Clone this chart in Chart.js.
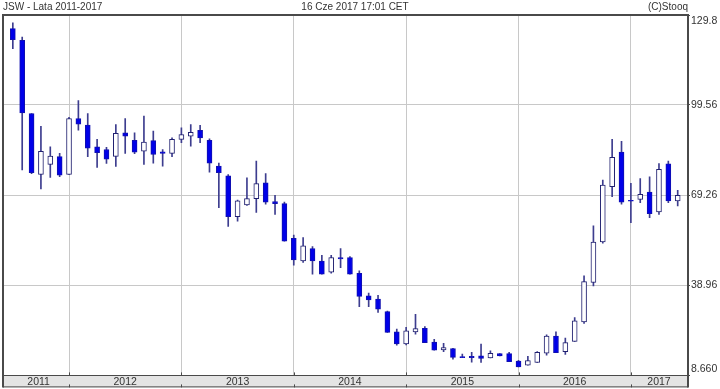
<!DOCTYPE html>
<html>
<head>
<meta charset="utf-8">
<script src="https://cdn.jsdelivr.net/npm/chart.js@4/dist/chart.umd.min.js"></script>
<style>
  body { margin: 0; background: #fff; }
</style>
</head>
<body>
<canvas id="chart" width="720" height="389"></canvas>
<script>
// JSW monthly candles, Jul 2011 .. Jun 2017 (x = month number, 0 = Jul 2011)
const opens  = [125.2, 121.3, 96.7, 76.2, 79.6, 82.2, 76.2, 95.0, 92.8, 85.5, 84.6, 82.3,
                90.2, 87.7, 84.0, 87.6, 83.8, 83.3, 88.0, 89.1, 91.0, 87.7, 79.0, 75.7,
                62.0, 66.0, 68.1, 73.4, 67.1, 66.4, 54.7, 47.1, 51.3, 47.1, 43.4, 48.3,
                48.3, 43.0, 35.4, 34.3, 30.1, 23.3, 19.2, 23.3, 24.5, 19.9, 17.2, 17.7,
                15.0, 15.1, 15.2, 14.5, 16.0, 16.0, 13.5, 12.1, 13.0, 16.1, 21.9, 16.6,
                20.1, 26.6, 39.9, 53.5, 72.1, 83.7, 67.5, 67.8, 70.3, 63.6, 79.8, 67.3];
const highs  = [127.2, 122.4, 96.7, 92.4, 85.5, 83.3, 95.4, 101.0, 96.7, 88.0, 85.3, 93.0,
                95.0, 90.2, 95.8, 90.8, 84.6, 88.5, 91.9, 93.0, 92.7, 88.2, 80.0, 76.2,
                67.6, 75.1, 80.7, 76.5, 69.2, 66.9, 55.8, 55.0, 52.0, 49.0, 49.0, 51.3,
                48.6, 43.8, 36.3, 35.6, 30.3, 24.2, 24.8, 29.2, 25.1, 20.8, 19.4, 17.8,
                15.8, 16.4, 19.2, 16.9, 16.0, 16.4, 13.7, 15.1, 16.7, 22.3, 23.3, 21.2,
                28.1, 42.1, 58.9, 74.3, 88.0, 87.3, 73.2, 74.8, 75.4, 79.9, 80.7, 70.9];
const lows   = [118.5, 77.7, 76.5, 71.3, 75.2, 75.5, 76.2, 91.1, 82.2, 78.6, 79.9, 78.9,
                83.3, 83.2, 79.6, 80.0, 79.0, 82.2, 86.9, 85.7, 86.9, 77.0, 65.0, 58.7,
                60.5, 65.8, 63.4, 66.2, 62.8, 53.8, 45.7, 46.6, 42.7, 42.7, 43.0, 44.9,
                42.7, 31.8, 31.8, 29.8, 23.1, 18.8, 18.9, 22.5, 19.7, 17.1, 16.6, 14.1,
                14.6, 13.1, 13.0, 14.5, 15.2, 13.3, 11.5, 12.1, 13.0, 15.5, 16.3, 15.7,
                20.1, 26.1, 38.7, 53.1, 68.7, 66.2, 60.0, 66.7, 61.7, 62.8, 66.7, 65.6];
const closes = [121.5, 96.9, 76.8, 84.0, 82.4, 76.0, 95.0, 93.1, 85.0, 83.5, 81.3, 90.0,
                89.1, 83.7, 87.1, 82.9, 83.3, 88.0, 89.6, 90.4, 88.5, 80.0, 76.8, 62.0,
                67.3, 68.1, 73.1, 66.9, 66.4, 53.8, 47.5, 52.2, 47.1, 42.7, 48.3, 47.8,
                42.7, 35.2, 34.0, 30.9, 23.1, 19.2, 23.6, 24.4, 19.7, 17.1, 18.0, 14.7,
                14.6, 14.6, 14.4, 16.1, 15.2, 13.3, 11.5, 13.6, 16.4, 21.9, 16.3, 19.7,
                27.0, 40.2, 53.5, 72.6, 82.0, 66.9, 67.2, 69.5, 63.0, 77.9, 67.3, 69.2];

// axes
const yearLines = [6, 18, 30, 42, 54, 66];            // January of 2012..2017
const yearLabels = ['2011', '2012', '2013', '2014', '2015', '2016', '2017'];
const yearLabelPos = [2.75, 12, 24, 36, 48, 60, 69];
const priceTicks = [8.66, 38.96, 69.26, 99.56, 129.8];
const priceTickLabels = ['8.660', '38.96', '69.26', '99.56', '129.8'];

const xMin = -1.05, xMax = 72.1;

const wickData = highs.map((h, i) => ({x: i, y: [lows[i], h]}));
const bodyData = opens.map((o, i) => ({x: i, y: [Math.min(o, closes[i]), Math.max(o, closes[i])]}));
const bodyFill = opens.map((o, i) => closes[i] < o ? '#0000e8' : '#ffffff');
const bodyLine = opens.map((o, i) => closes[i] < o ? '#1010b0' : '#202070');

const font = {family: '"Liberation Sans", Arial, sans-serif', size: 10.5};

// frame lines + header texts
const frame = {
  id: 'frame',
  afterDraw(chart) {
    const ctx = chart.ctx;
    const a = chart.chartArea;
    const bandBottom = chart.scales.xl.bottom;
    ctx.save();
    ctx.strokeStyle = '#4a4a4a';
    ctx.lineWidth = 2;
    ctx.beginPath();
    ctx.moveTo(a.left, bandBottom);
    ctx.lineTo(a.left, a.top);
    ctx.lineTo(a.right, a.top);
    ctx.lineTo(a.right, bandBottom);
    ctx.stroke();
    ctx.lineWidth = 1;
    ctx.beginPath();
    ctx.moveTo(a.left, bandBottom - 0.5);
    ctx.lineTo(a.right, bandBottom - 0.5);
    // small year marks on the band
    const x = chart.scales.x;
    yearLines.forEach(v => {
      const px = Math.round(x.getPixelForValue(v)) + 0.5;
      ctx.moveTo(px, a.bottom - 3);
      ctx.lineTo(px, a.bottom);
      ctx.moveTo(px, bandBottom - 3);
      ctx.lineTo(px, bandBottom);
    });
    ctx.stroke();

    ctx.fillStyle = '#333';
    ctx.font = '10px "Liberation Sans", Arial, sans-serif';
    ctx.textBaseline = 'middle';
    ctx.textAlign = 'left';
    ctx.fillText('JSW - Lata 2011-2017', 3, 7);
    ctx.textAlign = 'center';
    ctx.fillText('16 Cze 2017 17:01 CET', 355, 7);
    ctx.textAlign = 'right';
    ctx.fillText('(C)Stooq', a.right, 7);
    ctx.restore();
  }
};

new Chart(document.getElementById('chart'), {
  type: 'bar',
  data: {
    datasets: [{
      label: 'body',
      data: bodyData,
      backgroundColor: bodyFill,
      borderColor: bodyLine,
      borderWidth: 1,
      borderSkipped: false,
      barThickness: 5,
      minBarLength: 1,
      grouped: false,
      xAxisID: 'x'
    }, {
      label: 'wick',
      data: wickData,
      backgroundColor: '#3d3d8f',
      borderWidth: 0,
      barThickness: 1,
      minBarLength: 1,
      grouped: false,
      xAxisID: 'x'
    }]
  },
  options: {
    responsive: false,
    animation: false,
    layout: {padding: {top: 15, left: 3, right: 0, bottom: 1}},
    plugins: {
      legend: {display: false},
      tooltip: {enabled: false}
    },
    scales: {
      x: {
        type: 'linear',
        position: 'bottom',
        weight: 0,
        min: xMin,
        max: xMax,
        offset: false,
        afterBuildTicks: (axis) => { axis.ticks = yearLines.map(v => ({value: v})); },
        ticks: {display: false},
        grid: {color: '#c8c8c8', drawTicks: false, offset: false},
        border: {display: false}
      },
      xl: {
        type: 'linear',
        position: 'bottom',
        weight: 1,
        min: xMin,
        max: xMax,
        offset: false,
        backgroundColor: '#e4e4e4',
        afterBuildTicks: (axis) => { axis.ticks = yearLabelPos.map(v => ({value: v})); },
        afterFit: (axis) => { axis.height = 12; },
        ticks: {
          autoSkip: false,
          maxRotation: 0,
          padding: 0,
          color: '#333',
          font: font,
          callback: (v, i) => yearLabels[i]
        },
        grid: {display: false, drawTicks: false},
        border: {display: true, color: '#4a4a4a', width: 1}
      },
      y: {
        position: 'right',
        min: 8.66,
        max: 129.8,
        afterBuildTicks: (axis) => { axis.ticks = priceTicks.map(v => ({value: v})); },
        afterFit: (axis) => { axis.width = 32; },
        ticks: {
          padding: 1,
          color: '#333',
          font: font,
          // first label sits above its line, last one below it
          callback: (v, i) => i === 0 ? [priceTickLabels[i], ''] :
            i === priceTickLabels.length - 1 ? ['', priceTickLabels[i]] : priceTickLabels[i]
        },
        grid: {color: '#c8c8c8', tickLength: 2, tickColor: '#4a4a4a'},
        border: {display: true, color: '#4a4a4a', width: 2}
      }
    }
  },
  plugins: [frame]
});
</script>
</body>
</html>
